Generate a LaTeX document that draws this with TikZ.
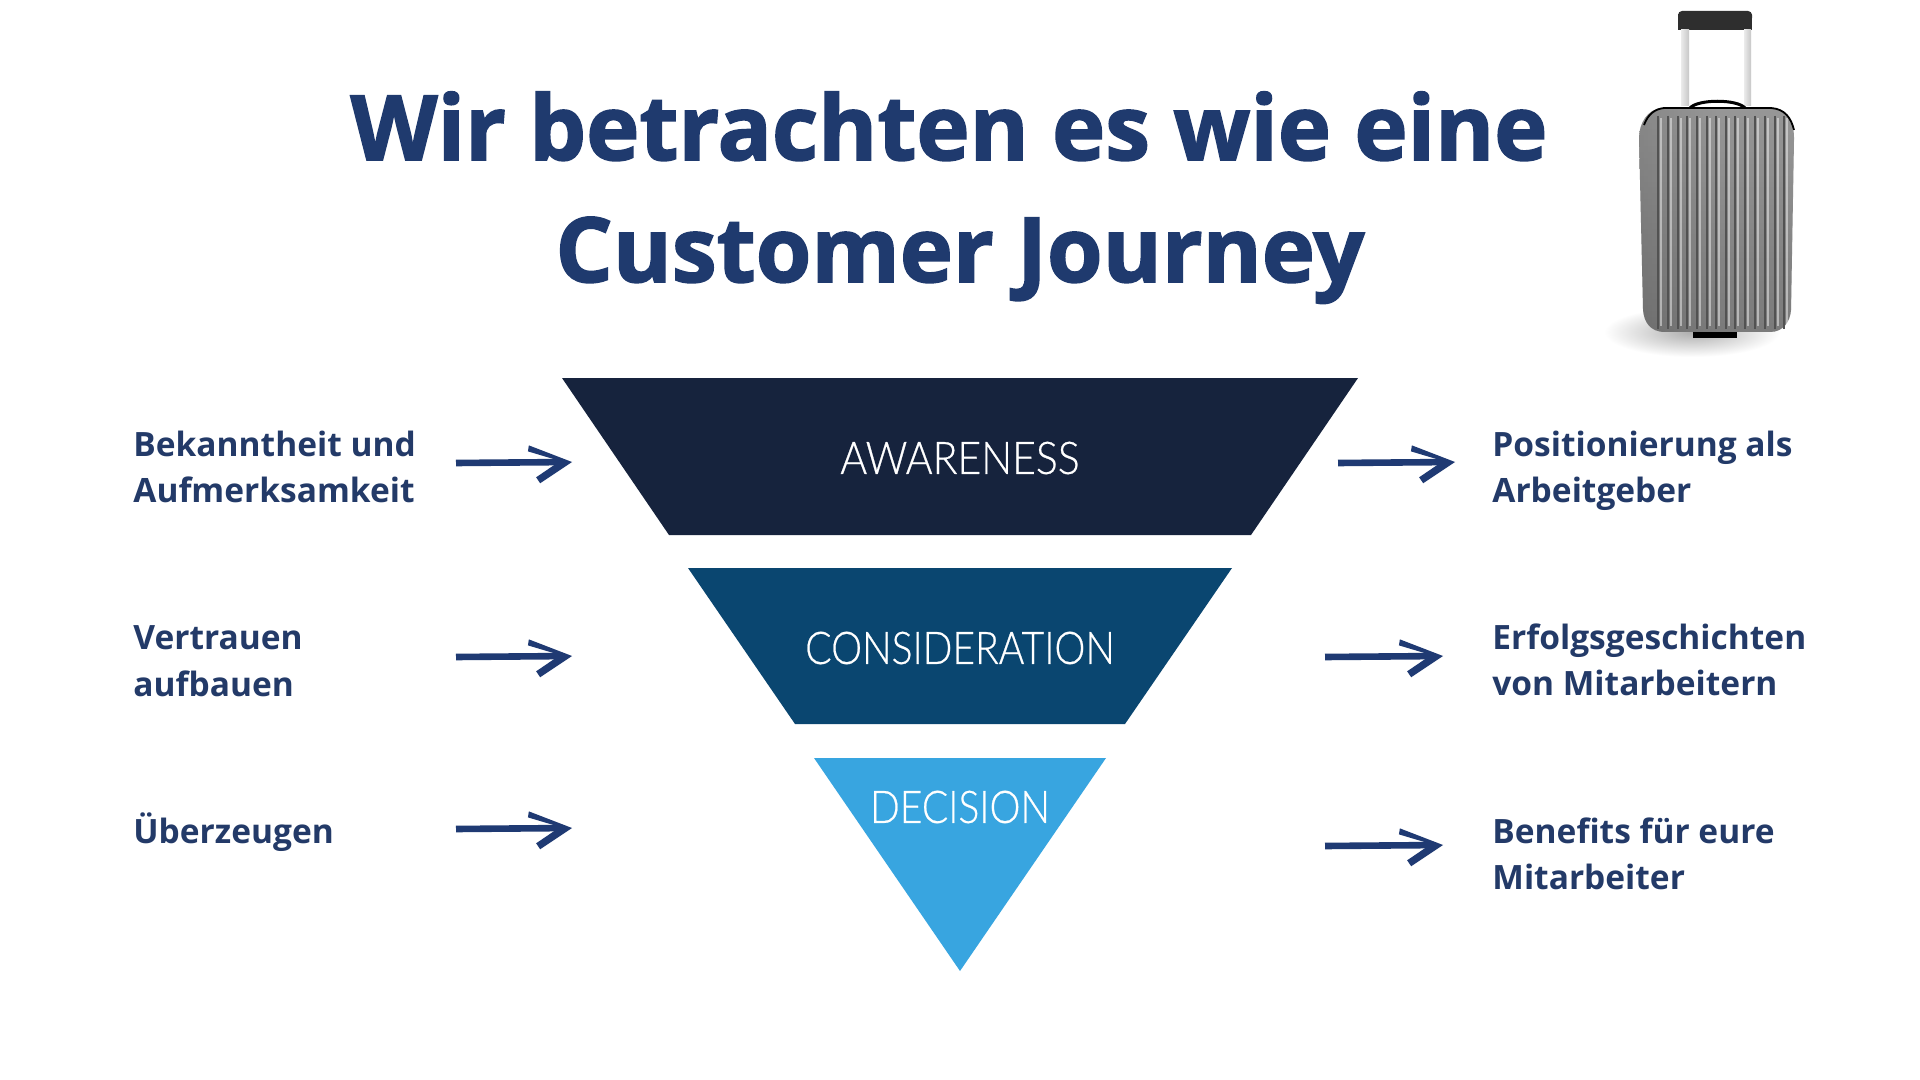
\documentclass[tikz,border=0pt]{standalone}
\usepackage{fontspec}
\usetikzlibrary{arrows.meta,fadings,shadings}
\setmainfont{Open Sans}
\newfontfamily\funnelfont[FakeStretch=0.91,FakeBold=0.5]{Lato Light}
\newfontfamily\funnelfontn[FakeStretch=0.868,FakeBold=0.5]{Lato Light}
\definecolor{navy}{HTML}{1F3A6E}
\definecolor{labelnavy}{HTML}{233A68}
\definecolor{brush}{HTML}{1F3A73}
\definecolor{stageA}{HTML}{16233D}
\definecolor{stageB}{HTML}{0A4670}
\definecolor{stageC}{HTML}{38A5E0}
\pgfdeclarehorizontalshading{shellshade}{100bp}{
 color(0bp)=(black!45); color(4bp)=(black!12); color(12bp)=(black!18); color(22bp)=(black!34);
 color(50bp)=(black!26); color(75bp)=(black!26); color(92bp)=(black!20); color(100bp)=(black!60)}
\tikzfading[name=suitv,top color=transparent!80,middle color=transparent!100,bottom color=transparent!65]
\pgfdeclarearrow{
  name=BrushTip,
  setup code={
    \pgfarrowssettipend{0pt}
    \pgfarrowssetlineend{-6pt}
    \pgfarrowssetvisualbackend{-6pt}
    \pgfarrowssetbackend{-22pt}
    \pgfarrowssavethe\pgfarrowlength
  },
  drawing code={
    \pgfpathmoveto{\pgfqpoint{0pt}{0pt}}
    \pgfpathlineto{\pgfqpoint{-21.5pt}{8.5pt}}
    \pgfpathlineto{\pgfqpoint{-22pt}{5.5pt}}
    \pgfpathlineto{\pgfqpoint{-9pt}{1.5pt}}
    \pgfpathlineto{\pgfqpoint{-9pt}{-1.5pt}}
    \pgfpathlineto{\pgfqpoint{-18pt}{-7.5pt}}
    \pgfpathlineto{\pgfqpoint{-16pt}{-10.5pt}}
    \pgfpathclose
    \pgfusepathqfill
  }
}
\tikzset{
  x=0.5pt,y=-0.5pt,
  title/.style={anchor=base,font=\fontsize{45}{54}\selectfont\bfseries\addfontfeatures{FakeBold=1.8},text=navy,inner sep=0pt},
  lab/.style={anchor=north west,align=left,font=\fontsize{16.75}{23.3}\selectfont\bfseries,text=labelnavy,inner sep=0pt},
  stagelab/.style={anchor=center,font=\fontsize{22.5}{26}\selectfont\funnelfont,text=white,inner sep=0pt},
  stagelabn/.style={stagelab,font=\fontsize{22.5}{26}\selectfont\funnelfontn},
  brusharrow/.style={draw=brush,line width=3.3pt,-{BrushTip}}
}
\newcommand{\suitpath}{(1662,108) -- (1773,108)
  .. controls (1788,109) and (1794,124) .. (1794,138) -- (1791,310)
  .. controls (1790,322) and (1783,332) .. (1770,332) -- (1665,332)
  .. controls (1650,332) and (1644,322) .. (1643,310) -- (1639,138)
  .. controls (1639,124) and (1647,109) .. (1662,108) -- cycle}
\begin{document}
\begin{tikzpicture}
\useasboundingbox (0,0) rectangle (1920,1080);
\fill[white] (0,0) rectangle (1920,1080);

\node[title] (t1) at (949,160) {Wir betrachten es wie eine};
\node[title] (t2) at (960,282) {Customer Journey};

\fill[stageA] (562,378) -- (1358,378) -- (1251,535) -- (669,535) -- cycle;
\fill[stageB] (688,568) -- (1232,568) -- (1125,724) -- (795,724) -- cycle;
\fill[stageC] (814,758) -- (1106,758) -- (960,971) -- cycle;
\node[stagelab] (s1) at (960,458) {AWARENESS};
\node[stagelabn] (s2) at (960,648) {CONSIDERATION};
\node[stagelabn] (s3) at (960,807) {DECISION};

\node[lab] (l1) at (133,430.5) {Bekanntheit und\\Aufmerksamkeit};
\node[lab] (l2) at (133,625.5) {Vertrauen\\aufbauen};
\node[lab] (l3) at (133,812) {Überzeugen};
\node[lab] (r1) at (1492,430.5) {Positionierung als\\Arbeitgeber};
\node[lab] (r2) at (1492,623) {Erfolgsgeschichten\\von Mitarbeitern};
\node[lab] (r3) at (1492,817) {Benefits für eure\\Mitarbeiter};

\coordinate (a1s) at (456,463); \coordinate (a1e) at (572,462);
\coordinate (a2s) at (456,657); \coordinate (a2e) at (572,656);
\coordinate (a3s) at (456,829); \coordinate (a3e) at (572,828);
\coordinate (b1s) at (1338,463); \coordinate (b1e) at (1455,462);
\coordinate (b2s) at (1325,657); \coordinate (b2e) at (1443,656);
\coordinate (b3s) at (1325,846); \coordinate (b3e) at (1443,845);
\foreach \a in {a1,a2,a3,b1,b2,b3}{\draw[brusharrow] (\a s) -- (\a e);}

% suitcase
\shade[inner color=black!32,outer color=white] (1692,332) ellipse [x radius=88,y radius=25];
\fill[black!82] (1678,14) rectangle (1752,30);
\fill[black!82,rounded corners=2pt] (1678,11) rectangle (1752,22);
\shade[left color=black!8,right color=black!22] (1681,30) rectangle (1689,106);
\shade[left color=black!8,right color=black!22] (1744,30) rectangle (1751,106);
\draw[black,line width=1.5pt] (1690,108) .. controls (1698,99) and (1737,99) .. (1745,108);
\fill[black] (1693,330) rectangle (1737,338);
\path[shading=shellshade] \suitpath;
\fill[black,path fading=suitv] \suitpath;
\foreach \x in {1658,1668,1678,1687,1697,1707,1716,1726,1735,1745,1755,1765,1775,1784}{
  \draw[black!68,line width=0.7pt] (\x,116) -- (\x,329);
  \draw[white,opacity=.45,line width=1pt] (\x+3,118) -- (\x+3,326);
}
\draw[black,line width=0.9pt] (1644,125) .. controls (1648,114) and (1655,109) .. (1664,108) -- (1771,108) .. controls (1785,109) and (1791,118) .. (1794,130);
\end{tikzpicture}
\end{document}
